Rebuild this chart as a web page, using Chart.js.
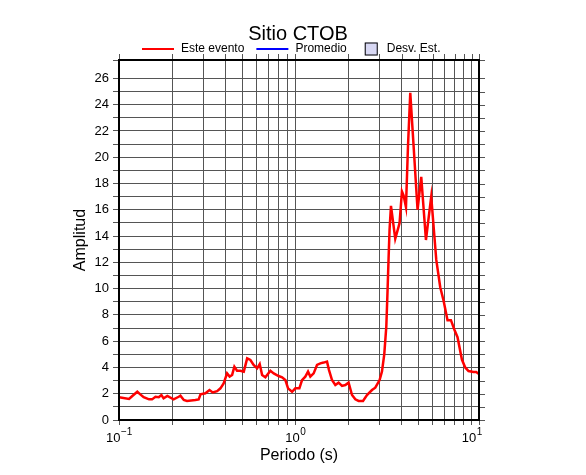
<!DOCTYPE html>
<html>
<head>
<meta charset="utf-8">
<script src="https://cdn.jsdelivr.net/npm/chart.js@4.4.0/dist/chart.umd.min.js"></script>
<style>
  html, body { margin: 0; padding: 0; background: #fff; }
</style>
</head>
<body>
<canvas id="chart" width="586" height="475"></canvas>
<script>
// Periodo (s) and amplitud
const periods = [0.1, 0.114, 0.119, 0.127, 0.132, 0.138, 0.148, 0.154, 0.161, 0.168,
  0.174, 0.179, 0.188, 0.204, 0.218, 0.223, 0.233, 0.243, 0.271, 0.283,
  0.290, 0.309, 0.326, 0.340, 0.360, 0.376, 0.392, 0.410, 0.424, 0.438,
  0.451, 0.467, 0.488, 0.510, 0.533, 0.556, 0.580, 0.607, 0.628, 0.648,
  0.676, 0.722, 0.754, 0.804, 0.841, 0.878, 0.909, 0.958, 1.0, 1.054,
  1.091, 1.139, 1.180, 1.216, 1.270, 1.327, 1.386, 1.447, 1.512, 1.552,
  1.614, 1.685, 1.759, 1.839, 1.920, 2.004, 2.096, 2.188, 2.284, 2.419,
  2.548, 2.720, 2.840, 3.004, 3.099, 3.193, 3.279, 3.334, 3.378, 3.422,
  3.485, 3.686, 3.848, 3.90, 4.022, 4.107, 4.239, 4.351, 4.484, 4.681,
  4.931, 5.175, 5.502, 5.895, 6.295, 6.486, 6.631, 6.923, 7.293, 7.624,
  7.990, 8.310, 8.800, 9.188, 9.592, 10.24, 10.60, 11.0];
const amplitudes = [1.73, 1.6, 1.83, 2.15, 1.95, 1.73, 1.57, 1.57, 1.77, 1.73,
  1.9, 1.65, 1.83, 1.57, 1.77, 1.85, 1.52, 1.45, 1.52, 1.57,
  1.95, 2.03, 2.28, 2.1, 2.2, 2.41, 2.79, 3.55, 3.3, 3.43,
  4.06, 3.75, 3.75, 3.68, 4.69, 4.57, 4.19, 3.93, 4.26, 3.42,
  3.25, 3.75, 3.55, 3.35, 3.25, 3.04, 2.41, 2.15, 2.41, 2.41,
  3.04, 3.3, 3.68, 3.3, 3.55, 4.19, 4.31, 4.37, 4.44, 3.8,
  3.04, 2.66, 2.84, 2.59, 2.66, 2.84, 1.9, 1.57, 1.45, 1.45,
  1.9, 2.28, 2.46, 3.04, 3.7, 5.0, 7.1, 9.9, 12.3, 14.5,
  16.3, 13.8, 14.7, 15.0, 17.4, 17.1, 16.2, 20.8, 24.9, 20.9,
  16.0, 18.5, 13.7, 17.0, 12.2, 11.0, 10.1, 9.1, 7.6, 7.6,
  6.85, 6.3, 4.6, 4.0, 3.73, 3.65, 3.65, 3.5];

// grid positions on the log axis and labelled decades
const xGridValues = [0.1, 0.2, 0.3, 0.4, 0.5, 0.6, 0.7, 0.8, 0.9,
  1, 2, 3, 4, 5, 6, 7, 8, 9, 10, 11];
const xLabelValues = [0.1, 1, 10];
const xLabelExponents = ['\u22121', '0', '1'];

const FONT = "'Liberation Sans', Arial, Helvetica, sans-serif";
const gridColor = '#555';

const decorPlugin = {
  id: 'decor',
  afterDraw(chart) {
    const { ctx, chartArea: a, scales } = chart;
    const xs = scales.x, ys = scales.y;
    ctx.save();

    // tick marks on top and right side
    ctx.strokeStyle = gridColor;
    ctx.lineWidth = 1;
    ctx.beginPath();
    xs.ticks.forEach(t => {
      const px = Math.round(xs.getPixelForValue(t.value)) + 0.5;
      ctx.moveTo(px, a.top);
      ctx.lineTo(px, a.top - 6);
    });
    ys.ticks.forEach(t => {
      const py = Math.round(ys.getPixelForValue(t.value)) + 0.5;
      ctx.moveTo(a.right, py);
      ctx.lineTo(a.right + 6, py);
    });
    ctx.stroke();

    // frame
    ctx.strokeStyle = '#000';
    ctx.lineWidth = 2;
    ctx.strokeRect(a.left, a.top, a.right - a.left, a.bottom - a.top);

    // x tick labels 10^n
    ctx.fillStyle = '#000';
    ctx.textBaseline = 'alphabetic';
    ctx.textAlign = 'left';
    xLabelValues.forEach((v, i) => {
      const px = xs.getPixelForValue(v);
      ctx.font = '13px ' + FONT;
      const wBase = ctx.measureText('10').width;
      ctx.font = '10px ' + FONT;
      const wExp = ctx.measureText(xLabelExponents[i]).width;
      const x0 = px - (wBase + wExp) / 2;
      ctx.font = '13px ' + FONT;
      ctx.fillText('10', x0, 442);
      ctx.font = '10px ' + FONT;
      ctx.fillText(xLabelExponents[i], x0 + wBase + 0.5, 435);
    });

    // axis titles
    ctx.font = '16px ' + FONT;
    ctx.textAlign = 'center';
    ctx.textBaseline = 'middle';
    ctx.fillText('Periodo (s)', (a.left + a.right) / 2, 456);
    ctx.save();
    ctx.translate(81, (a.top + a.bottom) / 2);
    ctx.rotate(-Math.PI / 2);
    ctx.fillText('Amplitud', 0, 0);
    ctx.restore();

    // title
    ctx.font = '20px ' + FONT;
    ctx.fillText('Sitio CTOB', 298, 34);

    // legend
    ctx.font = '12px ' + FONT;
    ctx.textAlign = 'left';
    let x = 142;
    const ly = 49;
    chart.data.datasets.forEach(ds => {
      if (ds.legendBox) {
        x += 6;
        ctx.fillStyle = ds.backgroundColor;
        ctx.fillRect(x, ly - 6.5, 13, 13);
        ctx.strokeStyle = '#000';
        ctx.lineWidth = 1;
        ctx.strokeRect(x + 0.5, ly - 6, 12, 12);
        x += 13 + 9;
      } else {
        ctx.strokeStyle = ds.borderColor;
        ctx.lineWidth = 2;
        ctx.beginPath();
        ctx.moveTo(x, ly);
        ctx.lineTo(x + 32, ly);
        ctx.stroke();
        x += 32 + 7;
      }
      ctx.fillStyle = '#000';
      ctx.fillText(ds.label, x, ly);
      x += ctx.measureText(ds.label).width + 12;
    });

    ctx.restore();
  }
};

new Chart(document.getElementById('chart'), {
  type: 'line',
  data: {
    datasets: [{
      label: 'Este evento',
      data: periods.map((p, i) => ({ x: p, y: amplitudes[i] })),
      borderColor: '#ff0000',
      borderWidth: 2.5,
      pointRadius: 0,
      tension: 0,
      fill: false
    }, {
      label: 'Promedio',
      data: [],
      borderColor: '#0000ff',
      borderWidth: 2,
      pointRadius: 0
    }, {
      label: 'Desv. Est.',
      data: [],
      legendBox: true,
      backgroundColor: '#d8d8f4',
      borderColor: '#000',
      pointRadius: 0
    }]
  },
  options: {
    responsive: false,
    animation: false,
    devicePixelRatio: 1,
    layout: { padding: { top: 60, right: 107, left: 0, bottom: 0 } },
    plugins: {
      legend: { display: false },
      title: { display: false },
      tooltip: { enabled: false }
    },
    scales: {
      x: {
        type: 'logarithmic',
        min: 0.1,
        max: 11,
        afterBuildTicks: scale => {
          scale.ticks = xGridValues.map(v => ({ value: v }));
        },
        afterFit: scale => { scale.height = 55; },
        ticks: { display: false, autoSkip: false },
        grid: { color: gridColor, lineWidth: 1, tickLength: 5, drawTicks: true },
        border: { display: false }
      },
      y: {
        min: 0,
        max: 27.4,
        afterFit: scale => { scale.width = 119; },
        ticks: {
          stepSize: 1,
          autoSkip: false,
          padding: 4,
          color: '#000',
          font: { family: FONT, size: 13 },
          callback: v => (Number.isInteger(v) && v % 2 === 0 ? String(v) : '')
        },
        grid: { color: gridColor, lineWidth: 1, tickLength: 6 },
        border: { display: false }
      }
    }
  },
  plugins: [decorPlugin]
});
</script>
</body>
</html>
